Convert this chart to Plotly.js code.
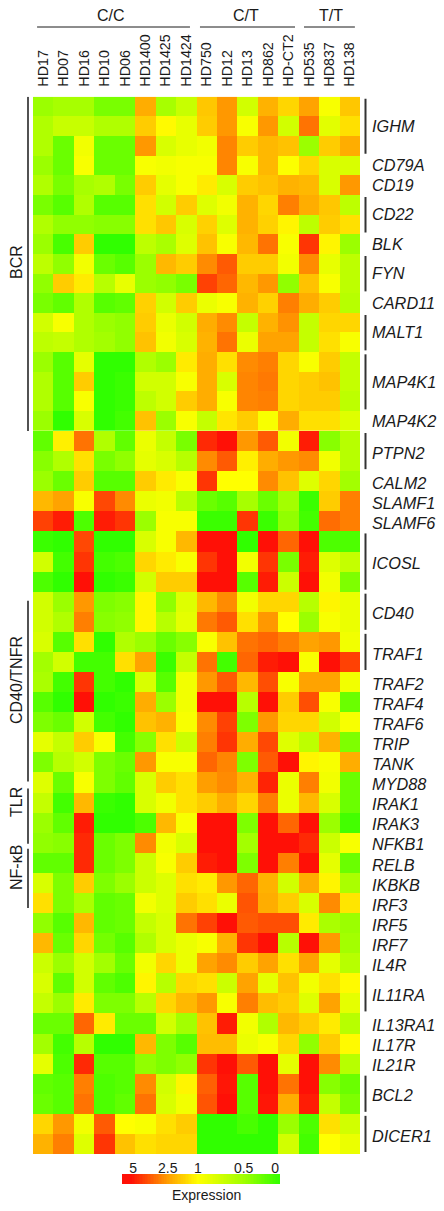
<!DOCTYPE html>
<html><head><meta charset="utf-8">
<script src="https://cdn.plot.ly/plotly-3.0.1.min.js"></script>
<style>html,body{margin:0;padding:0;background:#fff}</style></head>
<body><div id="chart" style="width:444px;height:1211px"></div>
<script>
const samples = ['HD17','HD07','HD16','HD10','HD06','HD1400','HD1425','HD1424','HD750','HD12','HD13','HD862','HD-CT2','HD535','HD837','HD138'];
const keyTickPositions = [7,29,48,77,97];
const keyTickLabels = ['5','2.5','1','0.5','0'];

const IGHM = [
 [78,75,75,85,85,32,75,65,37,28,62,33,40,30,50,37],
 [72,65,65,72,72,38,47,55,38,28,50,28,62,22,57,42],
 [72,88,52,88,88,28,60,55,52,25,38,34,36,78,38,32]];
const CD79A = [[78,88,50,88,88,50,52,50,50,25,50,34,49,40,60,60]];
const CD19 = [[72,85,75,72,85,38,56,50,44,60,38,36,33,34,60,28]];
const CD22 = [
 [85,92,72,92,92,42,62,38,58,52,33,40,24,32,37,68],
 [72,80,80,82,82,42,37,60,39,58,33,39,46,68,38,42]];
const BLK = [[78,95,38,100,100,68,74,58,36,50,34,22,50,12,46,78]];
const FYN = [
 [68,80,52,88,92,78,34,38,26,18,38,38,52,26,55,68],
 [80,38,44,70,55,78,80,85,14,20,34,28,80,36,50,68]];
const CARD11 = [[85,90,72,92,90,39,62,38,54,50,33,39,24,32,38,70]];
const MALT1 = [
 [62,50,72,78,80,38,54,62,32,26,66,33,27,66,40,40],
 [68,66,72,76,80,36,52,60,33,22,54,30,30,66,42,50]];
const MAP4K1 = [
 [78,92,56,100,100,72,78,44,32,42,26,24,40,50,38,66],
 [72,92,38,100,98,62,62,50,32,60,25,23,40,38,36,66],
 [72,92,50,100,98,68,62,38,32,50,25,24,40,38,38,68]];
const MAP4K2 = [[78,100,60,100,96,36,78,50,66,43,38,50,32,42,42,58]];
const PTPN2 = [
 [90,45,22,72,90,54,66,85,10,6,28,18,52,8,82,70],
 [82,72,42,85,80,56,60,70,26,18,45,32,28,26,52,70]];
const CALM2 = [[78,88,38,92,92,38,44,50,12,48,48,26,36,58,40,76]];
const SLAMF1 = [[34,30,50,15,26,54,52,70,88,92,75,88,76,98,38,24]];
const SLAMF6 = [[14,8,94,8,12,78,50,50,98,98,12,98,80,96,21,24]];
const ICOSL = [
 [98,100,15,100,100,60,50,34,3,3,100,3,20,5,94,94],
 [62,96,12,96,94,40,44,50,12,3,52,12,85,8,58,66],
 [94,100,5,100,98,62,38,38,3,3,92,8,64,3,52,84]];
const CD40 = [
 [62,78,28,84,82,46,80,58,34,26,52,40,40,70,46,54],
 [62,72,24,82,80,46,70,56,23,18,42,28,48,78,50,54]];
const TRAF1 = [
 [60,92,42,100,72,78,88,82,50,36,22,20,24,30,28,52],
 [76,62,96,96,42,30,98,66,22,96,20,8,3,50,3,14]];
const TRAF2 = [[74,96,12,96,100,60,92,52,28,18,34,16,50,30,30,52]];
const TRAF4 = [[92,100,3,100,98,32,78,52,5,5,70,3,38,16,50,88]];
const TRAF6 = [[84,88,62,96,100,36,33,50,26,14,84,28,40,40,62,50]];
const TRIP = [[56,66,38,50,96,82,42,64,24,12,32,15,58,68,33,84]];
const TANK = [[84,70,62,84,88,28,50,50,20,25,84,18,3,46,50,32]];
const MYD88 = [[58,88,50,84,90,60,38,42,29,26,33,9,54,24,52,88]];
const IRAK1 = [[66,96,34,98,100,60,52,42,38,32,40,24,54,34,60,88]];
const IRAK3 = [[78,90,8,100,100,94,34,50,5,3,84,4,20,3,78,96]];
const NFKB1 = [[80,82,10,88,84,26,52,60,4,3,76,3,5,10,64,50]];
const RELB = [[90,90,10,88,84,64,50,38,8,6,84,3,24,5,56,88]];
const IKBKB = [[60,84,38,84,78,64,58,42,44,28,20,33,62,32,46,74]];
const IRF3 = [[42,84,74,90,88,52,58,38,42,54,17,32,38,60,26,43]];
const IRF5 = [[80,92,34,90,88,66,60,22,14,5,18,16,16,44,74,78]];
const IRF7 = [[34,88,40,86,92,72,60,54,50,33,12,3,70,2,28,76]];
const IL4R = [[64,78,62,76,88,52,40,54,30,26,38,30,42,30,56,70]];
const IL11RA = [
 [60,90,62,90,94,46,70,40,42,64,30,56,36,52,42,47],
 [66,78,44,84,84,70,40,34,28,50,24,35,38,58,30,56]];
const IL13RA1 = [[88,88,20,44,88,88,62,76,36,8,52,72,34,38,44,70]];
const IL17R = [[76,96,70,100,100,34,84,92,35,35,54,50,40,80,38,47]];
const IL21R = [[56,94,10,92,92,80,84,80,12,6,18,5,56,5,26,70]];
const BCL2 = [
 [90,92,24,94,92,26,62,46,19,7,92,4,22,5,82,88],
 [88,92,22,94,90,22,60,52,17,5,92,7,32,8,66,84]];
const DICER1 = [
 [40,28,52,18,48,50,42,38,100,100,95,100,78,94,42,62],
 [33,24,58,12,36,42,40,40,100,100,100,100,62,96,48,54]];

const upperGenes = [['IGHM',IGHM],['CD79A',CD79A],['CD19',CD19],['CD22',CD22],['BLK',BLK],['FYN',FYN],['CARD11',CARD11],['MALT1',MALT1],['MAP4K1',MAP4K1],['MAP4K2',MAP4K2]];
const lowerGenes = [['PTPN2',PTPN2],['CALM2',CALM2],['SLAMF1',SLAMF1],['SLAMF6',SLAMF6],['ICOSL',ICOSL],['CD40',CD40],['TRAF1',TRAF1],['TRAF2',TRAF2],['TRAF4',TRAF4],['TRAF6',TRAF6],['TRIP',TRIP],['TANK',TANK],['MYD88',MYD88],['IRAK1',IRAK1],['IRAK3',IRAK3],['NFKB1',NFKB1],['RELB',RELB],['IKBKB',IKBKB],['IRF3',IRF3],['IRF5',IRF5],['IRF7',IRF7],['IL4R',IL4R],['IL11RA',IL11RA],['IL13RA1',IL13RA1],['IL17R',IL17R],['IL21R',IL21R],['BCL2',BCL2],['DICER1',DICER1]];

const genotypeGroups = [['C/C',-0.3,7.18,3.32],['C/T',7.67,12.32,9.92],['T/T',12.76,15.25,14.08]];

const W = 444, H = 1211;
const px = v => v / W, py = v => 1 - v / H;
const font = 'Liberation Sans, Arial, Helvetica, sans-serif';
const ink = '#1a1a1a', rule = '#333333';
const colorscale = [[0,'#ff1006'],[0.06,'#ff1006'],[0.29,'#ff9e00'],[0.48,'#ffff00'],[0.77,'#a0ff00'],[1,'#30ff00']];

const flat = g => g.flatMap(([, rows]) => rows);
const centres = (g, nudge) => { let r = 0; return g.map(([, rows]) => { const c = r + (rows.length - 1) / 2 + nudge; r += rows.length; return c; }); };
const names = g => g.map(([n]) => n);
const brackets = (g, yref) => { let r = 0; const out = [];
  g.forEach(([, rows]) => { if (rows.length > 1) out.push({type:'line',xref:'paper',yref,x0:px(365.5),x1:px(365.5),y0:r-0.4,y1:r+rows.length-0.6,line:{color:rule,width:2}}); r += rows.length; });
  return out; };

const heat = (z, yaxis) => ({type:'heatmap',z,x:samples,xaxis:'x',yaxis,zmin:0,zmax:100,colorscale,showscale:false,hoverinfo:'skip'});
const keyRamp = Array.from({length:101},(_,i)=>i);

const yAxisBase = (g, top, bottom, nudge) => ({
  domain:[py(bottom),py(top)], anchor:'x', side:'right', range:[flat(g).length-0.5,-0.5],
  tickmode:'array', tickvals:centres(g,nudge), ticktext:names(g), ticks:'', ticklabelstandoff:11,
  tickfont:{family:font,size:16.3,color:ink,style:'italic'}, showgrid:false, zeroline:false, showline:false, fixedrange:true
});

const groupLine = (y0, y1, yref) => ({type:'line',xref:'paper',yref,x0:px(28),x1:px(28),y0,y1,line:{color:rule,width:1.7}});

const sideText = (text, y) => ({text,xref:'paper',yref:'paper',x:px(16),y:py(y),textangle:-90,showarrow:false,xanchor:'center',yanchor:'middle',font:{family:font,size:16,color:ink}});

const layout = {
  width:W,height:H,margin:{l:0,r:0,t:0,b:0},paper_bgcolor:'#fff',plot_bgcolor:'#fff',showlegend:false,
  xaxis:{domain:[px(33),px(360)],anchor:'y',side:'top',type:'category',tickangle:-90,tickfont:{family:font,size:14.3,color:ink},ticks:'',ticklabelstandoff:9,showgrid:false,zeroline:false,showline:false,fixedrange:true,range:[-0.5,15.5]},
  yaxis:yAxisBase(upperGenes,96.7,431,0),
  yaxis2:yAxisBase(lowerGenes,431,1154,0.1),
  xaxis3:{domain:[px(122),px(280)],anchor:'y3',side:'top',range:[0,100],tickmode:'array',tickvals:keyTickPositions,ticktext:keyTickLabels,ticks:'',ticklabelstandoff:-3,tickfont:{family:font,size:14,color:ink},showgrid:false,zeroline:false,showline:false,fixedrange:true},
  yaxis3:{domain:[py(1184),py(1174)],anchor:'x3',showticklabels:false,ticks:'',showgrid:false,zeroline:false,showline:false,fixedrange:true},
  shapes:[
    ...brackets(upperGenes,'y'),...brackets(lowerGenes,'y2'),
    ...genotypeGroups.map(([,a,b])=>({type:'line',xref:'x',yref:'paper',x0:a,x1:b,y0:py(27),y1:py(27),line:{color:ink,width:1}})),
    groupLine(-0.5,16.85,'y'),
    groupLine(7.95,16.95,'y2'),
    groupLine(17.3,20.05,'y2'),
    groupLine(20.3,23.25,'y2')
  ],
  annotations:[
    ...genotypeGroups.map(([t,,,c])=>({text:t,xref:'x',yref:'paper',x:c,y:py(15),showarrow:false,xanchor:'center',yanchor:'middle',font:{family:font,size:16,color:ink}})),
    sideText('BCR',262),sideText('CD40/TNFR',680),sideText('TLR',802),sideText('NF-κB',868),
    {text:'Expression',xref:'paper',yref:'paper',x:px(206),y:py(1195),showarrow:false,xanchor:'center',yanchor:'middle',font:{family:font,size:14,color:ink}}
  ]
};

Plotly.newPlot('chart',[
  heat(flat(upperGenes),'y'),
  heat(flat(lowerGenes),'y2'),
  {type:'heatmap',x:keyRamp,y:['key'],z:[keyRamp],xaxis:'x3',yaxis:'y3',zmin:0,zmax:100,colorscale,showscale:false,hoverinfo:'skip'}
],layout,{displayModeBar:false,staticPlot:true});
</script></body></html>
